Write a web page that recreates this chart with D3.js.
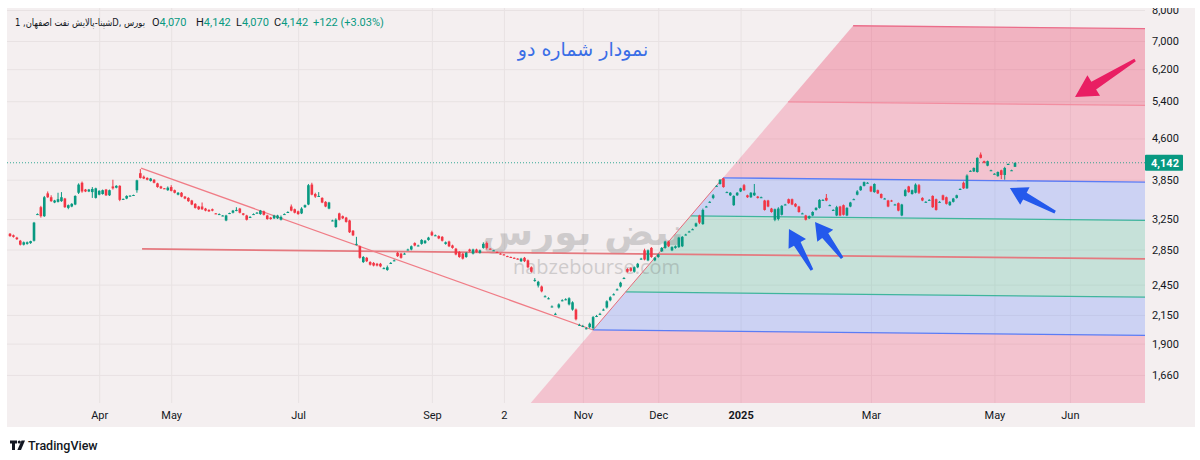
<!DOCTYPE html>
<html><head><meta charset="utf-8">
<script src="https://cdn.jsdelivr.net/npm/d3@7"></script>
<style>html,body{margin:0;padding:0;background:#fff;}svg{display:block}</style>
</head><body><svg id="c" width="1200" height="460"></svg>
<script>
// ---------------- DATA ----------------
// daily candles [open, high, low, close], bar index = position in array
const candles = [
[3050,3060,3010,3020],[3030,3040,3000,3010],[3000,3010,2970,2980],[2960,2970,2900,2910],[2910,2950,2900,2940],
[2920,2950,2910,2940],[2930,2960,2920,2955],[2960,3210,2950,3200],[3320,3330,3310,3320],[3420,3440,3270,3290],
[3290,3590,3280,3570],[3630,3660,3560,3570],[3570,3600,3500,3510],[3490,3530,3480,3520],[3500,3640,3490,3540],
[3510,3650,3500,3570],[3550,3560,3410,3420],[3410,3460,3390,3450],[3430,3480,3420,3470],[3460,3600,3450,3590],
[3640,3790,3620,3770],[3800,3820,3640,3660],[3690,3700,3650,3660],[3660,3700,3650,3690],[3650,3730,3560,3700],
[3560,3720,3550,3710],[3610,3680,3600,3670],[3620,3690,3610,3680],[3690,3700,3590,3600],[3600,3690,3590,3680],
[3740,3850,3690,3710],[3720,3760,3710,3750],[3750,3760,3510,3530],[3540,3550,3530,3545],[3550,3600,3540,3590],
[3590,3600,3580,3595],[3600,3610,3590,3605],[3680,3850,3640,3840],[3960,4030,3870,3880],[3900,3920,3860,3870],
[3880,3890,3840,3850],[3830,3880,3820,3870],[3850,3860,3790,3800],[3790,3800,3720,3730],[3740,3750,3700,3710],
[3710,3715,3700,3705],[3680,3740,3670,3720],[3730,3760,3660,3670],[3680,3690,3630,3640],[3610,3650,3600,3640],
[3640,3650,3570,3580],[3580,3590,3540,3550],[3560,3570,3500,3510],[3520,3530,3450,3460],[3470,3480,3400,3410],
[3430,3440,3380,3390],[3430,3490,3380,3390],[3400,3410,3360,3370],[3380,3390,3350,3360],[3390,3400,3360,3370],
[3330,3335,3320,3325],[3320,3330,3310,3320],[3300,3305,3290,3300],[3230,3310,3220,3300],[3330,3340,3320,3335],
[3340,3380,3330,3370],[3370,3420,3360,3380],[3400,3410,3330,3340],[3330,3335,3300,3310],[3300,3310,3230,3240],
[3280,3290,3270,3280],[3320,3330,3310,3320],[3340,3350,3330,3340],[3320,3380,3310,3370],[3360,3370,3300,3310],
[3300,3310,3240,3250],[3270,3280,3240,3250],[3260,3310,3250,3300],[3260,3310,3250,3300],[3240,3300,3230,3280],
[3320,3330,3310,3320],[3350,3360,3340,3350],[3430,3460,3360,3370],[3390,3400,3330,3340],[3360,3370,3310,3320],
[3330,3420,3320,3400],[3420,3460,3410,3450],[3460,3780,3450,3760],[3770,3800,3600,3610],[3620,3640,3560,3580],
[3590,3650,3580,3590],[3560,3570,3480,3490],[3500,3510,3420,3430],[3400,3500,3390,3490],[3230,3240,3220,3230],
[3140,3260,3130,3240],[3330,3340,3230,3240],[3290,3300,3250,3260],[3270,3280,3200,3210],[3230,3240,3060,3070],
[3090,3100,3020,3030],[2920,3010,2900,2920],[2890,2900,2740,2750],[2700,2770,2690,2760],[2750,2760,2700,2710],
[2700,2710,2660,2670],[2690,2700,2650,2660],[2680,2690,2650,2660],[2680,2690,2640,2650],[2630,2640,2620,2630],
[2610,2660,2600,2640],[2690,2700,2680,2690],[2720,2730,2710,2720],[2810,2820,2760,2770],[2800,2810,2740,2750],
[2800,2810,2790,2800],[2850,2860,2840,2850],[2850,2900,2840,2890],[2930,2940,2890,2900],[2900,2910,2890,2900],
[2920,2980,2910,2970],[2930,2970,2920,2960],[2970,3010,2960,3000],[3070,3090,3020,3030],[3030,3040,3020,3030],
[3020,3030,2980,2990],[3010,3020,2950,2960],[2920,2950,2910,2940],[2950,2960,2880,2890],[2900,2910,2860,2870],
[2860,2870,2780,2790],[2820,2830,2750,2760],[2800,2810,2730,2740],[2760,2820,2750,2810],[2850,2860,2820,2830],
[2800,2860,2790,2850],[2850,2860,2810,2820],[2810,2850,2800,2840],[2870,2940,2860,2920],[2930,2950,2850,2870],
[2860,2865,2850,2855],[2840,2845,2835,2840],[2820,2825,2810,2815],[2800,2805,2790,2795],[2790,2795,2780,2785],
[2770,2775,2760,2765],[2760,2765,2750,2755],[2750,2755,2740,2745],[2740,2745,2730,2735],[2710,2750,2700,2740],
[2750,2760,2700,2710],[2720,2730,2630,2640],[2640,2650,2580,2590],[2500,2520,2480,2500],[2440,2490,2420,2480],
[2430,2440,2370,2380],[2330,2340,2320,2330],[2310,2320,2300,2310],[2230,2240,2220,2230],[2160,2170,2150,2160],
[2220,2260,2210,2250],[2290,2300,2280,2290],[2300,2310,2290,2300],[2250,2320,2240,2310],[2200,2280,2190,2270],
[2200,2210,2100,2110],[2060,2070,2050,2060],[2050,2060,2040,2050],[2030,2040,2020,2030],[2040,2080,2030,2070],
[2030,2140,2015,2130],[2140,2150,2130,2140],[2160,2170,2150,2160],[2200,2210,2190,2200],[2220,2290,2210,2280],
[2290,2330,2280,2320],[2350,2360,2340,2350],[2400,2410,2390,2400],[2430,2480,2420,2470],[2520,2530,2510,2520],
[2620,2630,2580,2590],[2630,2640,2590,2600],[2590,2650,2580,2640],[2640,2690,2630,2680],[2740,2750,2730,2740],
[2840,2860,2720,2730],[2720,2850,2710,2840],[2870,2880,2750,2760],[2720,2760,2710,2750],[2760,2800,2750,2790],
[2830,2880,2820,2870],[2870,2960,2860,2950],[2950,2960,2880,2890],[2840,2890,2830,2880],[2870,2900,2860,2890],
[2880,3010,2870,3000],[2890,3020,2880,3010],[3040,3050,3030,3040],[3080,3090,3070,3080],[3110,3120,3100,3110],
[3150,3200,3140,3190],[3300,3310,3180,3200],[3180,3400,3170,3380],[3430,3440,3420,3430],[3500,3510,3490,3500],
[3560,3620,3540,3600],[3750,3760,3740,3750],[3780,3860,3770,3850],[3870,3880,3720,3730],[3650,3660,3640,3650],
[3600,3650,3590,3640],[3450,3600,3440,3590],[3600,3650,3590,3640],[3660,3720,3650,3710],[3760,3780,3670,3680],
[3600,3610,3560,3570],[3570,3650,3560,3640],[3600,3780,3590,3640],[3580,3590,3550,3560],[3570,3580,3560,3570],
[3520,3530,3370,3380],[3520,3530,3420,3430],[3400,3410,3340,3350],[3240,3400,3220,3390],[3250,3420,3230,3400],
[3310,3450,3300,3440],[3460,3470,3450,3460],[3540,3550,3470,3480],[3540,3550,3450,3460],[3470,3480,3420,3430],
[3430,3440,3340,3350],[3330,3340,3320,3330],[3300,3310,3230,3240],[3260,3300,3250,3290],[3300,3360,3290,3350],
[3380,3420,3370,3410],[3410,3540,3400,3530],[3530,3540,3520,3530],[3560,3620,3510,3520],[3450,3460,3440,3450],
[3380,3390,3370,3380],[3300,3440,3290,3420],[3430,3440,3290,3300],[3450,3460,3300,3310],[3300,3420,3290,3410],
[3430,3500,3420,3490],[3540,3550,3530,3540],[3610,3680,3600,3660],[3680,3750,3670,3740],[3750,3820,3740,3810],
[3800,3810,3790,3800],[3740,3750,3650,3660],[3650,3790,3640,3780],[3680,3690,3620,3630],[3620,3630,3550,3560],
[3550,3560,3540,3550],[3520,3530,3420,3430],[3520,3530,3500,3510],[3460,3470,3450,3460],[3480,3490,3360,3370],
[3300,3470,3290,3460],[3590,3700,3580,3680],[3740,3750,3640,3650],[3620,3690,3610,3680],[3640,3790,3630,3770],
[3760,3780,3620,3640],[3560,3570,3510,3520],[3500,3510,3490,3500],[3530,3540,3520,3530],[3590,3600,3410,3420],
[3540,3550,3370,3380],[3500,3510,3490,3500],[3600,3610,3520,3530],[3570,3580,3460,3470],[3450,3510,3440,3500],
[3500,3560,3490,3550],[3560,3610,3550,3600],[3700,3710,3690,3700],[3800,3820,3700,3710],[3710,3940,3700,3920],
[4000,4010,3990,4000],[3990,4060,3980,4050],[3980,4240,3970,4230],[4290,4330,4220,4230],[4170,4180,4130,4140],
[4090,4180,4080,4170],[4010,4020,4000,4010],[3950,3960,3940,3950],[3910,3990,3900,3980],[4010,4020,3860,3930],
[3930,4070,3850,4050],[4120,4130,4110,4120],[4010,4020,4000,4010],[4070,4142,4070,4142]
];
const priceTicks = [8000,7000,6200,5400,4600,3850,3250,2850,2450,2150,1900,1660];
const timeTickIdx = [26,47,84,123,144,167,189,213,251,287,309];
const timeTickLabels = ["Apr","May","Jul","Sep","2","Nov","Dec","2025","Mar","May","Jun"];
const lastBar = {open:4070, high:4142, low:4070, close:4142, change:122, pct:3.03};
const symbolText = "شپنا-پالایش نفت اصفهان, 1D, بورس";
const titleText = "نمودار شماره دو";
// Fib channel: base start, base end, width point (bar index, price)
const fibStart = [170, 2015];
const fibEnd = [330.9, 1968];
const fibWidthPt = [207.9, 3881];
const fibLevels = [-0.5, 0, 0.25, 0.5, 0.75, 1, 1.5, 2];
// trend lines (bar index, price)
const trendDown = [[38.2, 4048], [170, 2015]];
const trendFlat = [[38.5, 2857], [330.9, 2738]];
const trendUp = [[170, 2015], [207.9, 3881]];
// arrows: tail -> tip (bar index, price)
const blueArrows = [
  {tail:[233.8, 2609], tip:[227.1, 3112]},
  {tail:[242.6, 2747], tip:[234.7, 3208]},
  {tail:[304.7, 3349], tip:[291.5, 3714]}
];
const redArrows = [{tail:[328, 6449], tip:[310.5, 5496]}];

// ---------------- STYLE ----------------
const BG = "#f4eff0", GRID = "#e8e2e3", TXT = "#131722";
const UP = "#089981", DN = "#f23645";
const fibLineColor = [null, "#5b7cf5", "#3fb59d", null, "#3fb59d", "#5b7cf5", "#f28ea1", "#eb6d8a"];
const fibFill = ["rgba(242,54,100,0.23)", "rgba(74,117,253,0.23)", "rgba(48,182,144,0.23)",
                 "rgba(48,182,144,0.23)", "rgba(74,117,253,0.23)", "rgba(242,54,100,0.23)", "rgba(237,46,90,0.31)"];
const FONT = "Roboto, 'Liberation Sans', sans-serif";
const FA = "'DejaVu Sans', sans-serif";

const panel = {x0:7, y0:8, x1:1195, y1:427};
const plot = {x0:7, y0:8, x1:1145, y1:403};

const svg = d3.select("#c");
const defs = svg.append("defs");
defs.append("clipPath").attr("id","plotClip").append("rect")
  .attr("x",plot.x0).attr("y",plot.y0).attr("width",plot.x1-plot.x0).attr("height",plot.y1-plot.y0);
defs.append("clipPath").attr("id","panelClip").append("rect")
  .attr("x",panel.x0).attr("y",panel.y0).attr("width",panel.x1-panel.x0).attr("height",panel.y1-panel.y0);

svg.append("rect").attr("x",panel.x0).attr("y",panel.y0)
  .attr("width",panel.x1-panel.x0).attr("height",panel.y1-panel.y0).attr("fill",BG);

const x = d3.scaleLinear().domain([-0.875, 330.9]).range([plot.x0, plot.x1]);
const y = d3.scaleLog().domain([1471, 8069]).range([plot.y1, plot.y0]);
const P = d => [x(d[0]), y(d[1])];

const plotG = svg.append("g").attr("clip-path","url(#plotClip)");

// grid
plotG.append("g").attr("transform",`translate(0,${plot.y1})`)
  .call(d3.axisBottom(x).tickValues(timeTickIdx).tickSize(-(plot.y1-plot.y0)).tickFormat(""))
  .call(g=>{g.select(".domain").remove(); g.selectAll("line").attr("stroke",GRID);});
plotG.append("g").attr("transform",`translate(${plot.x1},0)`)
  .call(d3.axisRight(y).tickValues(priceTicks).tickSize(-(plot.x1-plot.x0)).tickFormat(""))
  .call(g=>{g.select(".domain").remove(); g.selectAll("line").attr("stroke",GRID);});

// fib channel
const p1 = P(fibStart), p2 = P(fibEnd), p3 = P(fibWidthPt);
const vx = p3[0]-p1[0], vy = p3[1]-p1[1];
const slope = (p2[1]-p1[1])/(p2[0]-p1[0]);
const lvl = fibLevels.map(L => {
  const sx = p1[0]+L*vx, sy = p1[1]+L*vy;
  return {L, s:[sx,sy], e:[plot.x1, sy+slope*(plot.x1-sx)]};
});
const fibG = plotG.append("g");
for (let i=0;i<lvl.length-1;i++){
  const a=lvl[i], b=lvl[i+1];
  fibG.append("path").attr("d", d3.line()([a.s,a.e,b.e,b.s])+"Z").attr("fill",fibFill[i]);
}
lvl.forEach((l,i)=>{
  if(!fibLineColor[i]) return;
  fibG.append("line").attr("x1",l.s[0]).attr("y1",l.s[1]).attr("x2",l.e[0]).attr("y2",l.e[1])
    .attr("stroke",fibLineColor[i]).attr("stroke-width",1.3);
});

// watermark (over the fills)
const wm = plotG.append("g").attr("opacity",0.3);
wm.append("text").attr("x",x(167)).attr("y",y(2900)).attr("text-anchor","middle")
  .attr("font-family",FA).attr("font-weight","bold").attr("font-size",37).attr("fill","#7a7a7a")
  .text("نبض بورس");
wm.append("text").attr("x",x(171)).attr("y",y(2560)).attr("text-anchor","middle")
  .attr("font-family","'Open Sans', sans-serif").attr("font-size",20).attr("fill","#7a7a7a")
  .text("nabzebourse.com");

// trend lines
const tl = plotG.append("g");
tl.append("line").datum(trendFlat).attr("x1",d=>x(d[0][0])).attr("y1",d=>y(d[0][1]))
  .attr("x2",d=>x(d[1][0])).attr("y2",d=>y(d[1][1])).attr("stroke","#e5797f").attr("stroke-width",1.8);
tl.append("line").datum(trendDown).attr("x1",d=>x(d[0][0])).attr("y1",d=>y(d[0][1]))
  .attr("x2",d=>x(d[1][0])).attr("y2",d=>y(d[1][1])).attr("stroke","#f07c86").attr("stroke-width",1.2);
tl.append("line").datum(trendUp).attr("x1",d=>x(d[0][0])).attr("y1",d=>y(d[0][1]))
  .attr("x2",d=>x(d[1][0])).attr("y2",d=>y(d[1][1])).attr("stroke","#e56b7a").attr("stroke-width",1);

// last price dotted line
plotG.append("line").attr("x1",plot.x0).attr("x2",plot.x1)
  .attr("y1",y(lastBar.close)).attr("y2",y(lastBar.close))
  .attr("stroke",UP).attr("stroke-width",1).attr("stroke-dasharray","1,2").attr("opacity",0.8);

// candles
const bw = 2.6;
const cg = plotG.append("g");
cg.selectAll("line.w").data(candles).join("line").attr("class","w")
  .attr("x1",(d,i)=>x(i)).attr("x2",(d,i)=>x(i))
  .attr("y1",d=>y(d[1])).attr("y2",d=>y(d[2]))
  .attr("stroke",d=>d[3]>=d[0]?UP:DN).attr("stroke-width",1);
cg.selectAll("rect.b").data(candles).join("rect").attr("class","b")
  .attr("x",(d,i)=>x(i)-bw/2).attr("width",bw)
  .attr("y",d=>y(Math.max(d[0],d[3])))
  .attr("height",d=>Math.max(1, y(Math.min(d[0],d[3]))-y(Math.max(d[0],d[3]))))
  .attr("fill",d=>d[3]>=d[0]?UP:DN);

// arrows
function arrowPath(t,p,hl,hw,sw0,sw1){
  const dx=p[0]-t[0], dy=p[1]-t[1], L=Math.hypot(dx,dy), ux=dx/L, uy=dy/L, nx=-uy, ny=ux;
  const bx=p[0]-ux*hl, by=p[1]-uy*hl;
  return d3.line()([[t[0]+nx*sw0,t[1]+ny*sw0],[bx+nx*sw1,by+ny*sw1],[bx+nx*hw,by+ny*hw],p,
    [bx-nx*hw,by-ny*hw],[bx-nx*sw1,by-ny*sw1],[t[0]-nx*sw0,t[1]-ny*sw0]])+"Z";
}
const ag = plotG.append("g");
ag.selectAll("path.ba").data(blueArrows).join("path").attr("class","ba")
  .attr("d",d=>arrowPath(P(d.tail),P(d.tip),17,10,1.5,3.8)).attr("fill","#2459ec");
ag.selectAll("path.ra").data(redArrows).join("path").attr("class","ra")
  .attr("d",d=>arrowPath(P(d.tail),P(d.tip),22,12,1.5,4.5)).attr("fill","#e91e63");

// title
plotG.append("text").attr("x",583).attr("y",56).attr("text-anchor","middle")
  .attr("font-family",FA).attr("font-size",19).attr("fill","#3a6ee6").text(titleText);

// axes
const axG = svg.append("g").attr("clip-path","url(#panelClip)");
axG.append("g").attr("transform",`translate(${plot.x1},0)`)
  .call(d3.axisRight(y).tickValues(priceTicks).tickSize(0).tickPadding(7).tickFormat(d3.format(",")))
  .call(g=>{g.select(".domain").remove();
    g.selectAll("text").attr("font-family",FONT).attr("font-size",11).attr("fill",TXT);});
axG.append("g").attr("transform",`translate(0,${plot.y1})`)
  .call(d3.axisBottom(x).tickValues(timeTickIdx).tickSize(0).tickPadding(8).tickFormat((d,i)=>timeTickLabels[i]))
  .call(g=>{g.select(".domain").remove();
    g.selectAll("text").attr("font-family",FONT).attr("font-size",11).attr("fill",TXT)
      .attr("font-weight",(d,i)=>timeTickLabels[i]==="2025"?"bold":"normal");});

// last price label
const ly = y(lastBar.close);
axG.append("rect").attr("x",plot.x1).attr("y",ly-8).attr("width",38).attr("height",16).attr("rx",1).attr("fill",UP);
axG.append("text").attr("x",plot.x1+6).attr("y",ly+4).attr("font-family",FONT).attr("font-size",11)
  .attr("font-weight","bold").attr("fill","#fff").text(d3.format(",")(lastBar.close));

// legend
const lg = svg.append("g").attr("font-size",11).attr("font-family",FONT);
lg.append("text").attr("x",15).attr("y",26).attr("font-family",FA).attr("font-size",10)
  .attr("textLength",130).attr("lengthAdjust","spacingAndGlyphs").attr("fill",TXT).text(symbolText);
const fmt = d3.format(",");
const ohlc = [["O",lastBar.open,152],["H",lastBar.high,196],["L",lastBar.low,236],["C",lastBar.close,274]];
ohlc.forEach(([k,v,px])=>{
  const t = lg.append("text").attr("x",px).attr("y",26);
  t.append("tspan").attr("fill",TXT).text(k);
  t.append("tspan").attr("fill",UP).text(fmt(v));
});
lg.append("text").attr("x",313).attr("y",26).attr("fill",UP)
  .text(`+${lastBar.change} (+${lastBar.pct.toFixed(2)}%)`);

// TradingView logo
const tv = svg.append("g").attr("fill",TXT);
tv.append("path").attr("d","M10 440.5h7v3h-2v6.5h-3v-6.5h-2z");
tv.append("circle").attr("cx",19.3).attr("cy",442).attr("r",1.6);
tv.append("path").attr("d","M21.5 440.5h3.5l-4 9.5h-3.6z");
tv.append("text").attr("x",28).attr("y",449.5).attr("font-family",FONT).attr("font-size",12.5)
  .attr("font-weight",500).text("TradingView");
</script></body></html>
